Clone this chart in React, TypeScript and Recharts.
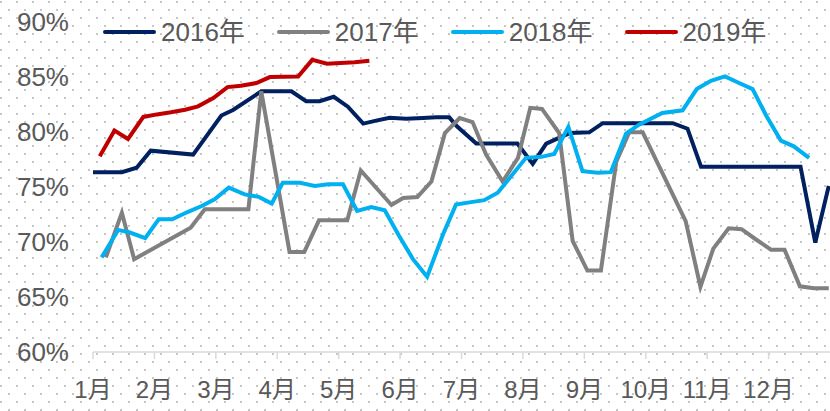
import { Line, LineChart, XAxis, YAxis } from "recharts";

// positions are in months (1 = start of Jan), values in %
const x2016 = [1.0, 1.47, 1.71, 1.94, 2.63, 3.09, 3.28, 3.74, 4.23, 4.47, 4.69, 4.92, 5.15, 5.4, 5.61, 5.83, 6.1, 6.37, 6.59, 6.8, 6.93, 7.24, 7.91, 8.16, 8.38, 8.76, 9.08, 9.3, 10.44, 10.68, 10.9, 12.52, 12.76, 12.98];
const v2016 = [76.35, 76.35, 76.75, 78.3, 77.95, 81.5, 82.0, 83.7, 83.7, 82.8, 82.8, 83.2, 82.3, 80.76, 81.03, 81.3, 81.2, 81.27, 81.33, 81.33, 80.5, 78.95, 78.95, 77.1, 78.95, 79.9, 79.97, 80.8, 80.8, 80.3, 76.85, 76.85, 69.95, 75.1];

const x2017 = [1.21, 1.47, 1.67, 2.59, 2.82, 3.53, 3.74, 4.2, 4.44, 4.68, 5.14, 5.36, 5.86, 6.05, 6.28, 6.51, 6.73, 6.97, 7.18, 7.4, 7.67, 7.92, 8.12, 8.31, 8.59, 8.81, 9.05, 9.27, 9.52, 9.73, 9.95, 10.65, 10.89, 11.1, 11.35, 11.56, 11.79, 12.04, 12.26, 12.51, 12.74, 12.98];
const v2017 = [68.6, 72.67, 68.44, 71.3, 72.97, 72.97, 83.7, 69.1, 69.1, 71.97, 71.97, 76.5, 73.36, 74.0, 74.09, 75.5, 79.9, 81.27, 80.9, 77.95, 75.5, 77.65, 82.2, 82.1, 79.9, 70.1, 67.4, 67.4, 77.3, 79.97, 79.97, 71.9, 65.93, 69.4, 71.25, 71.16, 70.25, 69.3, 69.3, 65.97, 65.8, 65.8];

const x2018 = [1.14, 1.41, 1.6, 1.85, 2.07, 2.29, 2.53, 2.77, 2.98, 3.21, 3.47, 3.7, 3.91, 4.09, 4.37, 4.61, 4.83, 5.07, 5.3, 5.53, 5.75, 5.98, 6.21, 6.44, 6.7, 6.91, 7.13, 7.37, 7.59, 7.81, 8.05, 8.3, 8.51, 8.74, 8.97, 9.22, 9.43, 9.68, 9.89, 10.27, 10.6, 10.83, 11.06, 11.29, 11.52, 11.74, 11.96, 12.2, 12.41, 12.66];
const v2018 = [68.6, 71.1, 70.86, 70.35, 72.07, 72.07, 72.7, 73.27, 73.88, 74.94, 74.33, 74.1, 73.5, 75.39, 75.39, 75.1, 75.24, 75.24, 72.82, 73.18, 72.88, 70.6, 68.44, 66.84, 70.7, 73.4, 73.6, 73.8, 74.48, 76.0, 77.65, 77.74, 78.0, 80.46, 76.44, 76.3, 76.35, 79.86, 80.67, 81.73, 81.97, 83.9, 84.66, 85.05, 84.45, 83.9, 81.5, 79.22, 78.7, 77.65];

const x2019 = [1.11, 1.35, 1.57, 1.82, 2.04, 2.27, 2.5, 2.71, 2.96, 3.19, 3.41, 3.66, 3.88, 4.11, 4.34, 4.57, 4.81, 5.03, 5.26, 5.5];
const v2019 = [77.8, 80.13, 79.37, 81.37, 81.6, 81.8, 82.03, 82.33, 83.09, 84.08, 84.2, 84.45, 84.99, 85.03, 85.05, 86.56, 86.2, 86.27, 86.35, 86.47];

const monthTicks = [1, 2, 3, 4, 5, 6, 7, 8, 9, 10, 11, 12];
const pctTicks = [60, 65, 70, 75, 80, 85, 90];

const series = [
  { name: "2016年", color: "#002060", xs: x2016, vs: v2016 },
  { name: "2017年", color: "#808080", xs: x2017, vs: v2017 },
  { name: "2018年", color: "#00B0F0", xs: x2018, vs: v2018 },
  { name: "2019年", color: "#C00000", xs: x2019, vs: v2019 },
];

const FONT = '"Liberation Sans", Arial, "Noto Sans CJK SC", sans-serif';
const TEXT = "#595959";

function zip(xs: number[], vs: number[]) {
  return xs.map((x, i) => ({ x, v: vs[i] }));
}

function Legend() {
  return (
    <div
      style={{
        position: "absolute",
        left: 103,
        top: 17,
        display: "flex",
        alignItems: "center",
        fontFamily: FONT,
        fontSize: 26,
        color: TEXT,
        lineHeight: "30px",
      }}
    >
      {series.map((s) => (
        <div key={s.name} style={{ display: "flex", alignItems: "center", marginRight: 32 }}>
          <div style={{ width: 53, height: 4, background: s.color, borderRadius: 2, marginRight: 5 }} />
          <span>{s.name}</span>
        </div>
      ))}
    </div>
  );
}

export default function App() {
  return (
    <div
      style={{
        position: "absolute",
        left: 0,
        top: 0,
        width: 830,
        height: 411,
        overflow: "hidden",
        background: "#ffffff",
        backgroundImage:
          "radial-gradient(circle at 1px 2px, #c6c6c6 0.9px, transparent 1.4px), radial-gradient(circle at 9px 10px, #c6c6c6 0.9px, transparent 1.4px)",
        backgroundSize: "16px 16px, 16px 16px",
      }}
    >
      <LineChart width={830} height={411} margin={{ top: 22, right: 0, bottom: 0, left: 0 }}>
        <XAxis
          dataKey="x"
          type="number"
          domain={[1, 13]}
          ticks={monthTicks}
          allowDataOverflow
          height={59}
          tickFormatter={(m) => `${m}月`}
          axisLine={{ stroke: "#d9d9d9", strokeWidth: 1.5 }}
          tickLine={{ stroke: "#d9d9d9", strokeWidth: 1.5 }}
          tickSize={7}
          tickMargin={22}
          tick={{ fill: TEXT, fontSize: 24, fontFamily: FONT }}
        />
        <YAxis
          type="number"
          domain={[60, 90]}
          ticks={pctTicks}
          width={93}
          axisLine={false}
          tickLine={false}
          tickSize={0}
          tickMargin={24}
          tickFormatter={(v) => `${v}%`}
          tick={{ fill: TEXT, fontSize: 26, fontFamily: FONT }}
        />
        {series.map((s) => (
          <Line
            key={s.name}
            data={zip(s.xs, s.vs)}
            dataKey="v"
            name={s.name}
            type="linear"
            stroke={s.color}
            strokeWidth={4}
            dot={false}
            activeDot={false}
            isAnimationActive={false}
          />
        ))}
      </LineChart>
      <Legend />
    </div>
  );
}
